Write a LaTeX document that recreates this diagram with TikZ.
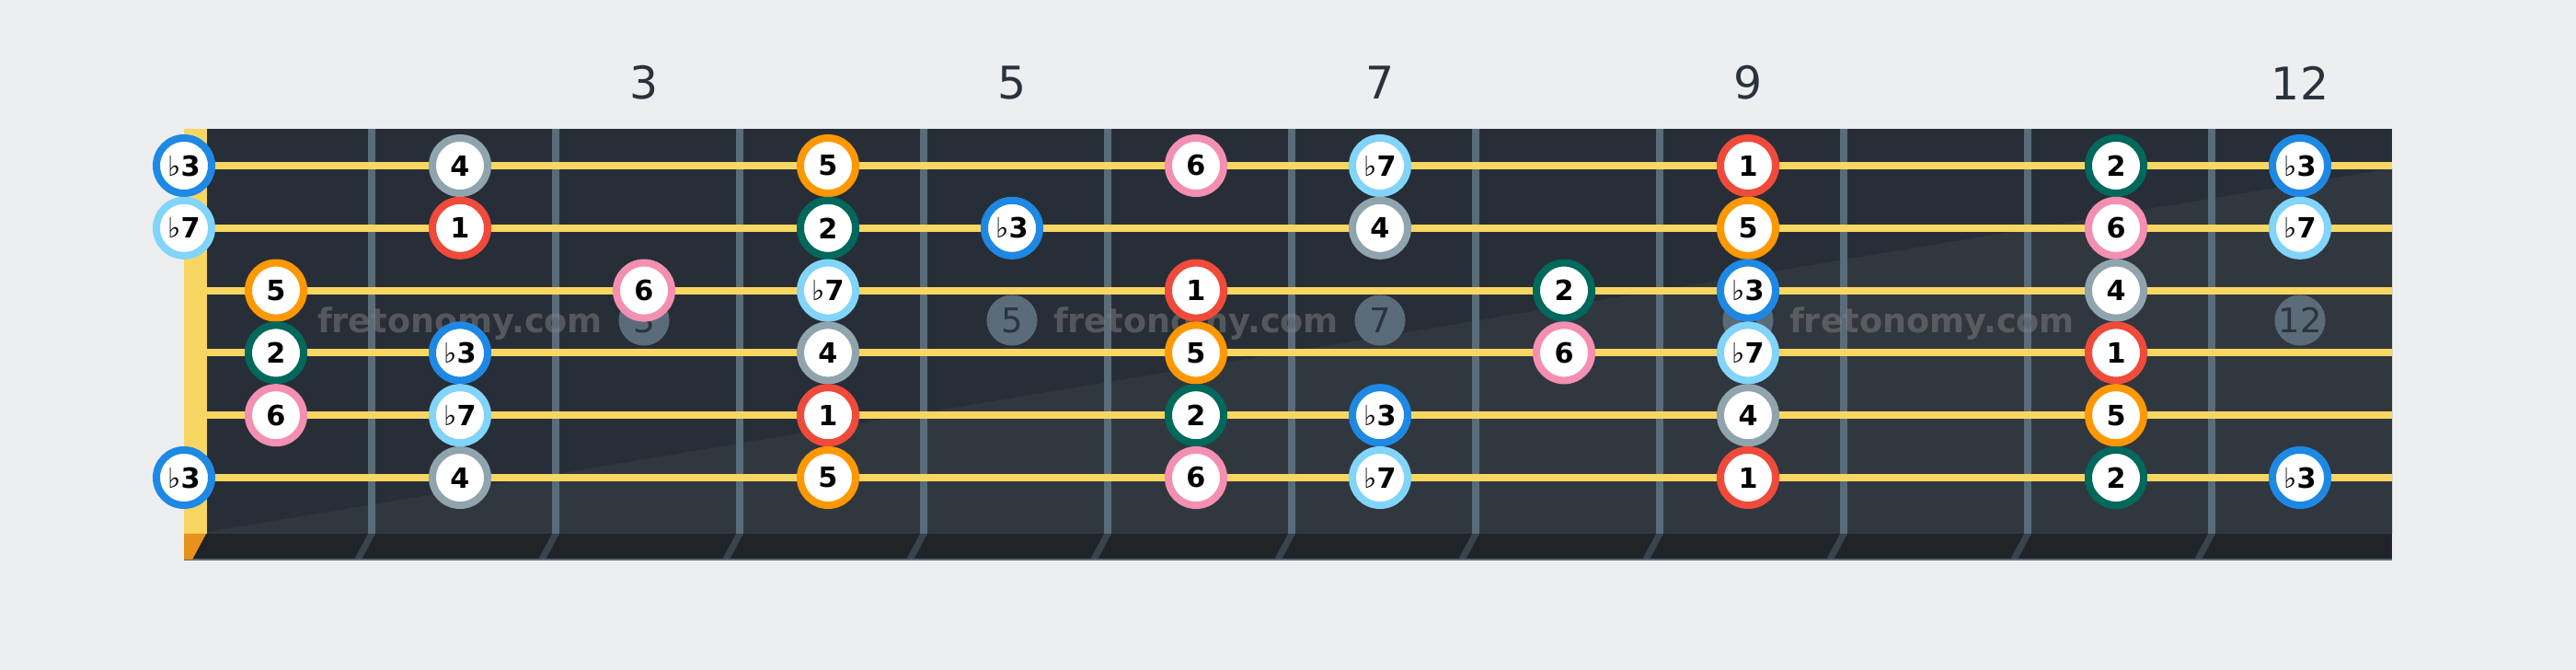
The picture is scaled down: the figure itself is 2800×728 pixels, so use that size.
\documentclass[tikz,border=0pt]{standalone}
\usepackage{fontspec}
\setmainfont{DejaVu Sans}
\definecolor{bg}{HTML}{EDEEF0}
\definecolor{board}{HTML}{282E37}
\definecolor{boardlt}{HTML}{31373F}
\definecolor{fretc}{HTML}{5A6B7A}
\definecolor{strc}{HTML}{F8D662}
\definecolor{nutbot}{HTML}{E8921E}
\definecolor{edgec}{HTML}{202428}
\definecolor{lbl}{HTML}{2A323C}
\definecolor{mtext}{HTML}{2C343D}
\definecolor{wmark}{HTML}{808080}
\definecolor{cR}{HTML}{F04A3A}
\definecolor{cG}{HTML}{00695C}
\definecolor{cB}{HTML}{1E88E5}
\definecolor{cGr}{HTML}{90A4AE}
\definecolor{cO}{HTML}{FF9800}
\definecolor{cP}{HTML}{F48FB1}
\definecolor{cLB}{HTML}{81D4FA}
\newcommand\flt{{\mdseries ♭}}
\expandafter\def\csname lab1\endcsname{1}
\expandafter\def\csname lab2\endcsname{2}
\expandafter\def\csname labb3\endcsname{\flt3}
\expandafter\def\csname lab4\endcsname{4}
\expandafter\def\csname lab5\endcsname{5}
\expandafter\def\csname lab6\endcsname{6}
\expandafter\def\csname labb7\endcsname{\flt7}
\tikzset{
  note/.style={circle, fill=white, line width=0.08cm, minimum size=0.6cm, inner sep=0pt,
    font=\fontsize{8.6pt}{9pt}\selectfont\bfseries, text=black},
  deg1/.style={draw=cR}, deg2/.style={draw=cG}, degb3/.style={draw=cB},
  deg4/.style={draw=cGr}, deg5/.style={draw=cO}, deg6/.style={draw=cP}, degb7/.style={draw=cLB},
  marker/.style={circle, fill=fretc, minimum size=0.55cm, inner sep=0pt,
    font=\fontsize{10.5pt}{11pt}\selectfont, text=mtext},
  fretnum/.style={font=\fontsize{13.9pt}{15pt}\selectfont, text=lbl},
  wm/.style={font=\fontsize{10.4pt}{11pt}\selectfont\bfseries, text=wmark, text opacity=0.5, anchor=base},
  stringline/.style={draw=strc, line width=0.08cm},
}
\begin{document}
\begin{tikzpicture}[x=0.01cm, y=-0.01cm]
\useasboundingbox (0,0) rectangle (2800,728);
\fill[bg] (0,0) rectangle (2800,728);
% board
\fill[board] (200,140) rectangle (2600,580);
\fill[boardlt] (225,578) -- (2600,183) -- (2600,580) -- (225,580) -- cycle;
% bottom edge
\fill[edgec] (200,580) rectangle (2600,608);
\draw[fretc, line width=0.4pt] (200,608) -- (2600,608);
% frets
\foreach \k in {1,...,11} {
  \pgfmathsetmacro{\fx}{204+200*\k}
  \fill[fretc] (\fx-4,140) rectangle (\fx+4,580);
  \fill[fretc, opacity=0.45] (\fx-4,580) -- (\fx+4,580) -- (\fx-11,608) -- (\fx-19,608) -- cycle;
}
% nut
\fill[strc] (200,140) rectangle (225,580);
\fill[nutbot] (200,580) -- (224,580) -- (209,608) -- (200,608) -- cycle;
% strings
\foreach \s in {1,...,6} {
  \pgfmathsetmacro{\yy}{180+67.8*(\s-1)}
  \coordinate (sl\s) at (225,\yy);
  \coordinate (sr\s) at (2600,\yy);
  \draw[stringline] (sl\s) -- (sr\s);
}
% fret numbers
\foreach \f in {3,5,7,9,12} {
  \node[fretnum] (fn\f) at (100+200*\f,90) {\f};
}
% inlay markers
\foreach \f in {3,5,7,9,12} {
  \node[marker] (m\f) at (100+200*\f,348) {\f};
}
% watermark
\node[wm] (w1) at (500,362) {fretonomy.com};
\node[wm] (w2) at (1300,362) {fretonomy.com};
\node[wm] (w3) at (2100,362) {fretonomy.com};
% notes
\foreach \s/\f/\d in {
  1/0/b3, 1/2/4, 1/4/5, 1/6/6, 1/7/b7, 1/9/1, 1/11/2, 1/12/b3,
  2/0/b7, 2/2/1, 2/4/2, 2/5/b3, 2/7/4, 2/9/5, 2/11/6, 2/12/b7,
  3/1/5, 3/3/6, 3/4/b7, 3/6/1, 3/8/2, 3/9/b3, 3/11/4,
  4/1/2, 4/2/b3, 4/4/4, 4/6/5, 4/8/6, 4/9/b7, 4/11/1,
  5/1/6, 5/2/b7, 5/4/1, 5/6/2, 5/7/b3, 5/9/4, 5/11/5,
  6/0/b3, 6/2/4, 6/4/5, 6/6/6, 6/7/b7, 6/9/1, 6/11/2, 6/12/b3} {
  \pgfmathsetmacro{\yy}{180+67.8*(\s-1)}
  \pgfmathsetmacro{\xx}{ifthenelse(\f==0,200,100+200*\f)}
  \node[note, deg\d] (n\s-\f) at (\xx,\yy) {\csname lab\d\endcsname};
}
\end{tikzpicture}
\end{document}
